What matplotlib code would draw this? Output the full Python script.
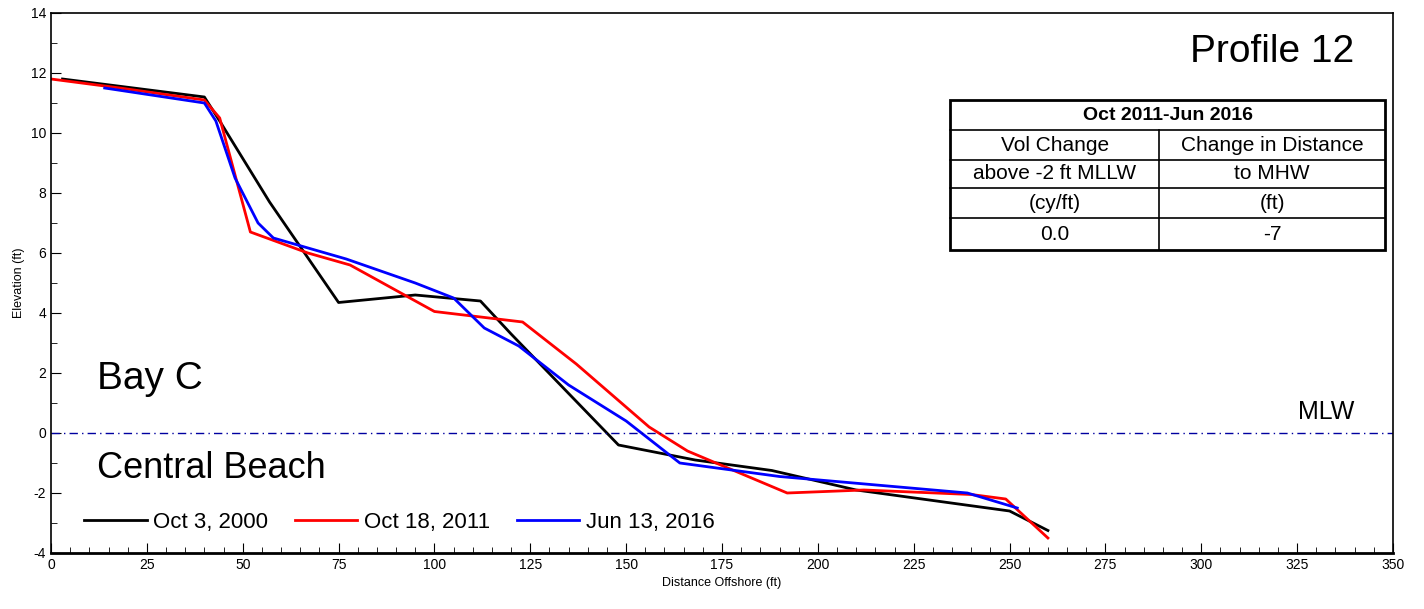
import matplotlib
matplotlib.use('Agg')
from matplotlib import pyplot as plt
from matplotlib.ticker import MultipleLocator

plt.rcParams['font.family'] = ['Liberation Sans', 'DejaVu Sans']
plt.rcParams['axes.unicode_minus'] = False

x_2000 = [3, 40, 44, 57, 75, 95, 112, 120, 148, 168, 188, 210, 250, 260]
y_2000 = [11.8, 11.2, 10.4, 7.7, 4.35, 4.6, 4.4, 3.3, -0.4, -0.9, -1.25, -1.9, -2.6, -3.25]

x_2011 = [0, 18, 40, 44, 52, 67, 78, 100, 123, 137, 156, 166, 192, 212, 240, 249, 260]
y_2011 = [11.8, 11.5, 11.1, 10.5, 6.7, 6.0, 5.6, 4.05, 3.7, 2.3, 0.2, -0.6, -2.0, -1.9, -2.05, -2.2, -3.5]

x_2016 = [14, 40, 43, 48, 54, 58, 77, 95, 105, 113, 122, 135, 150, 164, 190, 239, 252]
y_2016 = [11.5, 11.0, 10.4, 8.5, 7.0, 6.5, 5.8, 5.0, 4.5, 3.5, 2.9, 1.6, 0.4, -1.0, -1.45, -2.0, -2.5]

labels = ['Oct 3, 2000', 'Oct 18, 2011', 'Jun 13, 2016']

fig = plt.figure(figsize=(14.24, 6.09), dpi=100)
ax = fig.add_axes([51/1424, 1-553/609, 1342/1424, 540/609])
ax.plot(x_2000, y_2000, color='black', lw=2, label=labels[0])
ax.plot(x_2011, y_2011, color='red', lw=2, label=labels[1])
ax.plot(x_2016, y_2016, color='blue', lw=2, label=labels[2])
ax.axhline(0, color='#0000a0', lw=1, ls=(0, (6, 3, 1, 3)))

ax.set_xlim(0, 350)
ax.set_ylim(-4, 14)
ax.xaxis.set_major_locator(MultipleLocator(25))
ax.xaxis.set_minor_locator(MultipleLocator(5))
ax.yaxis.set_major_locator(MultipleLocator(2))
ax.yaxis.set_minor_locator(MultipleLocator(1))
ax.tick_params(which='both', direction='in', labelsize=10, top=False, right=False)
ax.tick_params(which='major', length=7)
ax.tick_params(which='minor', length=4)
for s in ax.spines.values():
    s.set_linewidth(1.2)
ax.spines['bottom'].set_linewidth(2)
ax.set_xlabel('Distance Offshore (ft)', fontsize=9)
ax.set_ylabel('Elevation (ft)', fontsize=9)

ax.text(12, 1.2, 'Bay C', fontsize=28, ha='left', va='bottom')
ax.text(12, -1.2, 'Central Beach', fontsize=26, ha='left', va='center')
ax.text(340, 12.7, 'Profile 12', fontsize=28, ha='right', va='center')
ax.text(340, 0.7, 'MLW', fontsize=18, ha='right', va='center')

ax.legend(loc='lower left', bbox_to_anchor=(0.01, 0.0), ncol=3, frameon=False,
          fontsize=16, handlelength=2.8, handletextpad=0.3, columnspacing=1.2)

# change table
x0, x1, xm = 0.670, 0.994, 0.826
rows = [0.839, 0.783, 0.728, 0.676, 0.620, 0.561]
kw = dict(transform=ax.transAxes, color='black')
ax.add_patch(plt.Rectangle((x0, rows[-1]), x1 - x0, rows[0] - rows[-1], fill=True,
                           facecolor='white', edgecolor='black', lw=2, transform=ax.transAxes, zorder=3))
for y in rows[1:-1]:
    ax.plot([x0, x1], [y, y], lw=1.2, zorder=4, **kw)
ax.plot([xm, xm], [rows[-1], rows[1]], lw=1.2, zorder=4, **kw)
cells = [['Vol Change', 'Change in Distance'], ['above -2 ft MLLW', 'to MHW'],
         ['(cy/ft)', '(ft)'], ['0.0', '-7']]
ax.text((x0 + x1) / 2, (rows[0] + rows[1]) / 2, 'Oct 2011-Jun 2016', fontsize=14,
        fontweight='bold', ha='center', va='center', transform=ax.transAxes, zorder=5)
for i, (a, b) in enumerate(cells):
    yc = (rows[i + 1] + rows[i + 2]) / 2
    ax.text((x0 + xm) / 2, yc, a, fontsize=15, ha='center', va='center', transform=ax.transAxes, zorder=5)
    ax.text((xm + x1) / 2, yc, b, fontsize=15, ha='center', va='center', transform=ax.transAxes, zorder=5)

fig.savefig('out.png', dpi=100)
